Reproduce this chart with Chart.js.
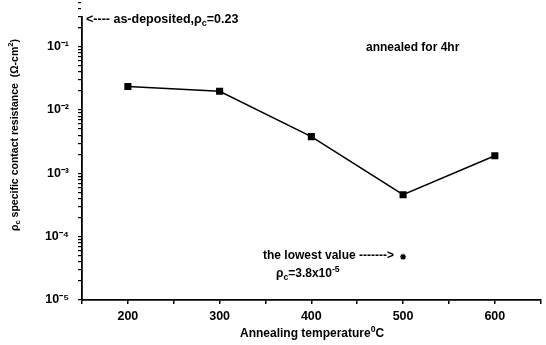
<!DOCTYPE html>
<html>
<head>
<meta charset="utf-8">
<script src="https://cdn.jsdelivr.net/npm/chart.js@4.4.1/dist/chart.umd.min.js"></script>
<style>
  html, body { margin: 0; padding: 0; background: #fff; }
  #wrap { width: 546px; height: 345px; }
</style>
</head>
<body>
<div id="wrap"><canvas id="rc-chart"></canvas></div>
<script>
// annealing temperature (C) and specific contact resistance (ohm-cm2)
const temps = [200, 300, 400, 500, 600];
const rhoC = [0.0235, 0.0198, 0.0038, 0.00046, 0.0019];

// lowest value marker (the "*" as placed in the figure)
const lowestTemp = [500];
const lowestRho = [4.8e-5];

const yTickText = {
    '-1': '10⁻¹',
    '-2': '10⁻²',
    '-3': '10⁻³',
    '-4': '10⁻⁴',
    '-5': '10⁻⁵'
};
const xTickValues = [200, 300, 400, 500, 600];

const FONT = 'Liberation Sans, Arial, sans-serif';

// draw text with a small subscript / superscript part
const drawRich = (ctx, parts, x, y, size, weight) => {
    let cx = x;
    parts.forEach(p => {
        const s = p.sub || p.sup ? size * 0.72 : size;
        ctx.font = `${weight || 'normal'} ${s}px ${FONT}`;
        let dy = 0;
        if (p.sub) dy = size * 0.3;
        if (p.sup) dy = -size * 0.4;
        ctx.fillText(p.t, cx, y + dy);
        cx += ctx.measureText(p.t).width;
    });
};

const notes = {
    id: 'notes',
    afterDraw: (chart) => {
        const ctx = chart.ctx;
        ctx.save();
        ctx.fillStyle = '#000';
        ctx.textBaseline = 'middle';
        ctx.textAlign = 'left';

        drawRich(ctx, [{t: '<---- as-deposited,ρ'}, {t: 'c', sub: true}, {t: '=0.23'}], 86, 20, 12.5, 'bold');
        drawRich(ctx, [{t: 'annealed for 4hr'}], 366, 48, 12, 'bold');
        drawRich(ctx, [{t: 'the lowest value ------->'}], 263, 256, 12, 'bold');
        drawRich(ctx, [{t: 'ρ'}, {t: 'c', sub: true}, {t: '=3.8x10'}, {t: '-5', sup: true}], 276, 274, 12, 'bold');

        // x title
        drawRich(ctx, [{t: 'Annealing temperature'}, {t: '0', sup: true}, {t: 'C'}], 240, 334, 12, 'bold');

        // y title (rotated)
        ctx.translate(15, 231);
        ctx.rotate(-Math.PI / 2);
        drawRich(ctx, [{t: 'ρ'}, {t: 'c', sub: true}, {t: ' specific contact resistance  (Ω-cm'}, {t: '2', sup: true}, {t: ')'}], 0, 0, 10.5, 'bold');
        ctx.restore();
    }
};

const CHART = document.getElementById('rc-chart');
const rcChart = new Chart(CHART, {
    type: 'line',
    data: {
        datasets: [
            {
                data: temps.map((t, i) => ({x: t, y: rhoC[i]})),
                borderColor: '#000',
                borderWidth: 1.5,
                backgroundColor: '#000',
                pointStyle: 'rect',
                pointRadius: 5,
                pointBorderWidth: 0,
                tension: 0
            },
            {
                data: lowestTemp.map((t, i) => ({x: t, y: lowestRho[i]})),
                showLine: false,
                borderColor: '#000',
                backgroundColor: '#000',
                pointStyle: 'star',
                pointRadius: 3,
                pointBorderWidth: 1.3
            }
        ]
    },
    options: {
        responsive: true,
        maintainAspectRatio: false,
        animation: false,
        layout: { padding: { top: 12, right: 2, left: 0, bottom: 0 } },
        plugins: {
            legend: { display: false },
            tooltip: { enabled: false }
        },
        scales: {
            x: {
                type: 'linear',
                min: 150,
                max: 650,
                afterFit: s => { s.height = 45; },
                afterBuildTicks: s => {
                    s.ticks = [];
                    for (let v = 150; v <= 650; v += 50) s.ticks.push({value: v});
                },
                border: { color: '#000', width: 1.8 },
                grid: { drawOnChartArea: false, tickLength: 4, color: '#000', tickColor: '#000', lineWidth: 1.5 },
                ticks: {
                    autoSkip: false,
                    maxRotation: 0,
                    padding: 5,
                    color: '#000',
                    font: { family: FONT, size: 12.5, weight: 'bold' },
                    callback: v => xTickValues.includes(v) ? String(v) : ''
                }
            },
            y: {
                type: 'logarithmic',
                min: 1e-5,
                max: 0.3,
                afterFit: s => { s.width = 82; },
                afterBuildTicks: s => {
                    s.ticks = [];
                    for (let e = -5; e <= -1; e++) {
                        for (let m = 1; m <= 9; m++) s.ticks.push({value: m * Math.pow(10, e)});
                    }
                    s.ticks.push({value: 0.2});
                },
                border: { color: '#000', width: 1.8 },
                grid: { drawOnChartArea: false, tickLength: 4, color: '#000', tickColor: '#000', lineWidth: 1.2 },
                ticks: {
                    autoSkip: false,
                    padding: 9,
                    color: '#000',
                    font: { family: FONT, size: 12.5, weight: 'bold' },
                    callback: v => {
                        const e = Math.log10(v);
                        const r = Math.round(e);
                        return Math.abs(e - r) < 1e-6 && yTickText[r] ? yTickText[r] : '';
                    }
                }
            }
        }
    },
    plugins: [notes]
});
</script>
</body>
</html>
